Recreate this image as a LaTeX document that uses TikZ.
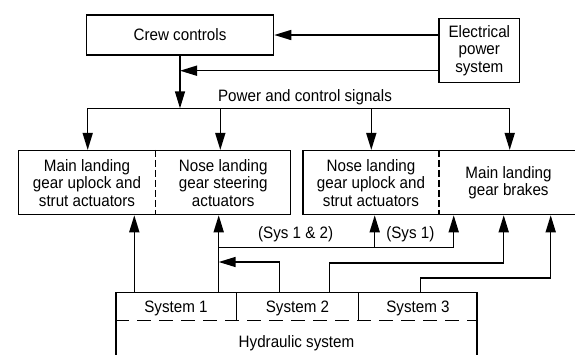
\documentclass[tikz,border=0pt]{standalone}
\usepackage{fontspec}
\setmainfont{Liberation Sans}[FakeStretch=0.92]
\usetikzlibrary{arrows.meta}

\begin{document}
\begin{tikzpicture}[x=1pt, y=-1pt, line width=1.5pt,
  >={Triangle[length=17pt, width=10pt]},
  box/.style={draw, inner sep=0pt},
  txt/.style={font=\fontsize{16.5}{17.5}\selectfont, align=center, inner sep=0pt},
  divider/.style={line width=1.2pt, dash pattern=on 7pt off 3pt},
  seam/.style={dash pattern=on 14pt off 8pt}]

% Frame (cuts off the open box edges)
\clip (0,0) rectangle (575,354);
\fill[white] (0,0) rectangle (575,354);

% --- Top row ---
\node[box, txt, minimum width=187pt, minimum height=40pt] (crew) at (180,35) {Crew controls};
\node[box, txt, minimum width=80.7pt, minimum height=64.4pt] (elec) at (479.3,50.5)
  {Electrical\\power\\system};

\coordinate (tap) at (180,70.7);
\draw[->] (elec.west |- crew.east) -- (crew.east);
\draw[->] (elec.west |- tap) -- (tap);

% --- Signal bus ---
\coordinate (busl) at (87.7,108.3);
\coordinate (busr) at (509.7,108.3);
\coordinate (d2) at (220.3,108.3);
\coordinate (d3) at (371.3,108.3);
\draw[->] (crew.south) -- (crew.south |- busl);
\draw (busl) -- (busr);
\node[txt, anchor=base] (signals) at (305,101.5) {Power and control signals};

% --- Actuator boxes ---
\node[box, minimum width=272.4pt, minimum height=63.8pt] (gearl) at (154.5,182.6) {};
\node[box, minimum width=275pt, minimum height=63.8pt] (gearr) at (440.5,182.6) {};
\coordinate (dl) at (155.7,182.6);
\coordinate (dr) at (439,182.6);
\draw[divider] (dl |- gearl.north) -- (dl |- gearl.south);
\draw[divider] (dr |- gearr.north) -- (dr |- gearr.south);

\node[txt] (mlgu) at (87,182.6) {Main landing\\gear uplock and\\strut actuators};
\node[txt] (nlgs) at (223.2,182.6) {Nose landing\\gear steering\\actuators};
\node[txt] (nlgu) at (371,182.6) {Nose landing\\gear uplock and\\strut actuators};
\node[txt] (mlgb) at (508.5,182.6) {Main landing\\gear brakes};

\draw[->] (busl) -- (busl |- gearl.north);
\draw[->] (d2) -- (d2 |- gearl.north);
\draw[->] (d3) -- (d3 |- gearr.north);
\draw[->] (busr) -- (busr |- gearr.north);

% --- Hydraulic system ---
\node[box, minimum width=361pt, minimum height=100pt] (hyd) at (296.5,342.7) {};
\coordinate (seam) at (296.5,320.3);
\coordinate (s12) at (236.3,292.7);
\coordinate (s23) at (358.7,292.7);
\draw[seam] (hyd.west |- seam) -- (hyd.east |- seam);
\draw (s12) -- (s12 |- seam);
\draw (s23) -- (s23 |- seam);

\node[txt, anchor=base] (sysone) at (176,312) {System 1};
\node[txt, anchor=base] (systwo) at (297.5,312) {System 2};
\node[txt, anchor=base] (systhree) at (418,312) {System 3};
\node[txt, anchor=base] (hydlbl) at (296.5,347) {Hydraulic system};

% --- Supply lines ---
\coordinate (h1) at (134.3,292.7);
\coordinate (h2) at (218.7,292.7);
\coordinate (h3) at (279.3,292.7);
\coordinate (h4) at (329.3,292.7);
\coordinate (h5) at (420.3,292.7);
\coordinate (j1) at (218.7,247.7);
\coordinate (j2) at (218.7,262);
\coordinate (b1) at (374.7,247.7);
\coordinate (b2) at (453.7,247.7);
\coordinate (k4) at (503.7,263);
\coordinate (k5) at (550.7,278);

\draw[->] (h1) -- (h1 |- gearl.south);
\draw[->] (h2) -- (h2 |- gearl.south);
\draw[->] (h3) |- (j2);
\draw (j1) -- (b2);
\draw[->] (b1) -- (b1 |- gearr.south);
\draw[->] (b2) -- (b2 |- gearr.south);
\draw[->] (h4) |- (k4) -- (k4 |- gearr.south);
\draw[->] (h5) |- (k5) -- (k5 |- gearr.south);

\node[txt] (sysboth) at (295.7,234.5) {(Sys 1 \& 2)};
\node[txt] (sysfirst) at (410.3,234.5) {(Sys 1)};

\end{tikzpicture}
\end{document}
